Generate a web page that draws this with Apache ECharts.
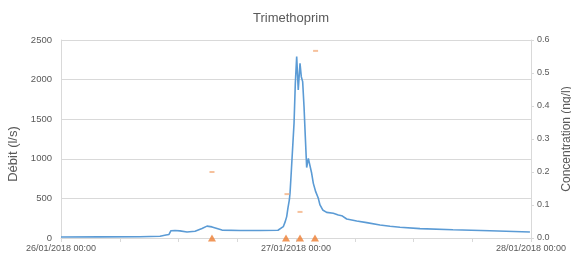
<!DOCTYPE html>
<html>
<head>
<meta charset="utf-8">
<script src="https://cdn.jsdelivr.net/npm/echarts@6/dist/echarts.min.js"></script>
<style>
  html, body { margin: 0; padding: 0; background: #fff; }
  #chart { width: 571px; height: 258px; }
</style>
</head>
<body>
<div id="chart"></div>
<script>
// heures depuis le 26/01/2018 00:00
const flowHours = [0, 3.98, 8.07, 10.11, 10.72, 11.03, 11.23, 11.64, 12.15, 12.87, 13.69, 14.40, 14.91, 15.42,
    16.44, 18.28, 20.32, 22.16, 22.70, 22.88, 23.05, 23.18, 23.32, 23.39, 23.46, 23.52, 23.66, 23.80, 23.93,
    24.07, 24.23, 24.41, 24.54, 24.68, 24.82, 24.95, 25.09, 25.26, 25.43, 25.60, 25.77, 26.01, 26.28, 26.45,
    26.73, 27.13, 27.81, 28.32, 28.67, 29.18, 30.20, 31.22, 32.58, 33.60, 34.62, 36.66, 40.03, 43.81, 47.89];
const flowValues = [12, 14, 16, 22, 38, 45, 92, 95, 90, 76, 85, 120, 150, 140,
    100, 95, 95, 98, 143, 200, 270, 380, 480, 565, 540, 840, 860, 1450, 1950,
    2290, 1870, 2206, 2037, 1974, 1658, 1280, 890, 1006, 1000, 817, 690, 585, 501, 417,
    354, 324, 312, 290, 282, 240, 215, 194, 164, 148, 135, 118, 105, 92, 76];

// concentrations mesurées (ng/l)
const concHours = [15.42, 23.08, 24.41, 26.0];
const concValues = [0.2, 0.133, 0.079, 0.567];

// prélèvements (triangles sur l'axe)
const sampleHours = [15.42, 22.98, 24.41, 25.94];
const sampleValues = [0, 0, 0, 0];

const xTickLabels = { 0: '26/01/2018 00:00', 24: '27/01/2018 00:00', 48: '28/01/2018 00:00' };

const zip = (a, b) => a.map((v, i) => [v, b[i]]);

const gray = '#595959';
const lineGray = '#D9D9D9';
const font = 'Liberation Sans, Arial, sans-serif';

const chart = echarts.init(document.getElementById('chart'));

const option = {
    animation: false,
    backgroundColor: '#fff',
    textStyle: { fontFamily: font },
    title: {
        text: 'Trimethoprim',
        left: 248,
        top: 7,
        textStyle: { color: gray, fontSize: 13, fontWeight: 'normal', fontFamily: font }
    },
    grid: { left: 61, right: 40, top: 40, bottom: 20, outerBoundsMode: 'none', containLabel: false },
    xAxis: {
        type: 'value',
        min: 0,
        max: 48,
        interval: 6,
        axisLine: { show: true, lineStyle: { color: lineGray } },
        axisTick: { show: true, length: 4, lineStyle: { color: lineGray } },
        splitLine: { show: false },
        axisLabel: {
            color: gray,
            fontSize: 9,
            margin: 6,
            showMinLabel: true,
            showMaxLabel: true,
            hideOverlap: false,
            formatter: (v) => xTickLabels[v] || ''
        }
    },
    yAxis: [{
        type: 'value',
        min: 0,
        max: 2500,
        interval: 500,
        name: 'Débit (l/s)',
        nameLocation: 'middle',
        nameRotate: 90,
        nameGap: 38,
        nameTextStyle: { color: gray, fontSize: 13, padding: [0, 30, 0, 0] },
        axisLine: { show: true, lineStyle: { color: lineGray } },
        axisTick: { show: false },
        splitLine: { lineStyle: { color: lineGray } },
        axisLabel: { color: gray, fontSize: 9.5, margin: 9, formatter: (v) => String(v) }
    }, {
        type: 'value',
        min: 0,
        max: 0.6,
        interval: 0.1,
        position: 'right',
        name: 'Concentration (ng/l)',
        nameLocation: 'middle',
        nameRotate: 90,
        nameGap: 30,
        nameTextStyle: { color: gray, fontSize: 12 },
        axisLine: { show: true, lineStyle: { color: lineGray } },
        axisTick: { show: true, length: 3, lineStyle: { color: lineGray } },
        splitLine: { show: false },
        axisLabel: { color: gray, fontSize: 9, margin: 6, formatter: (v) => v.toFixed(1) }
    }],
    series: [{
        name: 'Débit',
        type: 'line',
        data: zip(flowHours, flowValues),
        showSymbol: false,
        lineStyle: { color: '#5B9BD5', width: 1.6 },
        z: 2
    }, {
        name: 'Concentration',
        type: 'scatter',
        yAxisIndex: 1,
        data: zip(concHours, concValues),
        symbol: 'rect',
        symbolSize: [5, 2],
        itemStyle: { color: '#F4B183' },
        z: 3
    }, {
        name: 'Prélèvement',
        type: 'scatter',
        yAxisIndex: 1,
        data: zip(sampleHours, sampleValues),
        symbol: 'triangle',
        symbolSize: [8, 7],
        clip: false,
        itemStyle: { color: '#ED7D31' },
        z: 4
    }]
};

chart.setOption(option);
</script>
</body>
</html>
